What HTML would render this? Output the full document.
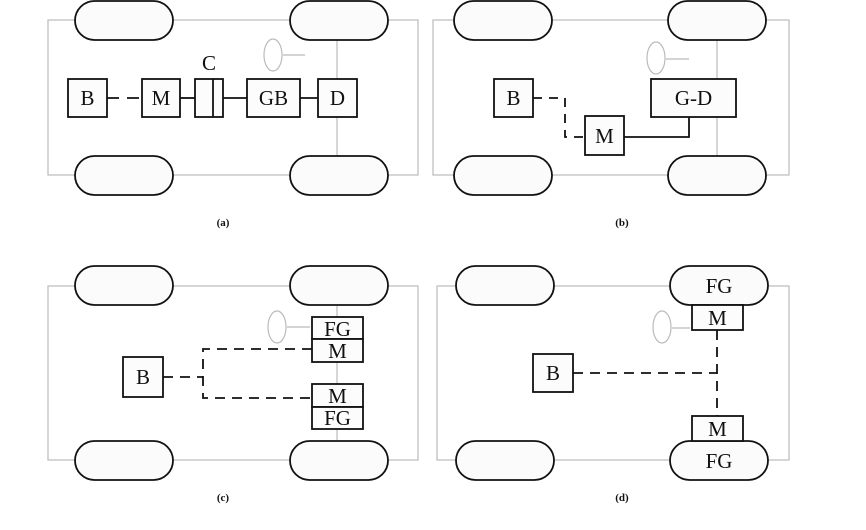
<!DOCTYPE html>
<html><head><meta charset="utf-8"><style>html,body{margin:0;padding:0;background:#fff}svg{display:block}</style></head><body>
<svg width="866" height="530" viewBox="0 0 866 530" xmlns="http://www.w3.org/2000/svg" font-family="Liberation Serif, serif">
<defs>
<g id="w"><rect x="0" y="0" width="98" height="39" rx="19.5" fill="#fbfbfb" stroke="#111" stroke-width="1.8"/></g>
</defs>
<g stroke="#bbb" stroke-width="1.2" fill="none">
<rect x="48" y="20" width="370" height="155"/>
<rect x="433" y="20" width="356" height="155"/>
<rect x="48" y="286" width="370" height="174"/>
<rect x="437" y="286" width="352" height="174"/>
<line x1="337" y1="40" x2="337" y2="156"/>
<line x1="717" y1="40" x2="717" y2="156"/>
<line x1="337" y1="306" x2="337" y2="441"/>
<ellipse cx="273" cy="55" rx="9" ry="16"/><line x1="283" y1="55" x2="305" y2="55"/>
<ellipse cx="656" cy="58" rx="9" ry="16"/><line x1="666" y1="59" x2="689" y2="59"/>
<ellipse cx="277" cy="327" rx="9" ry="16"/><line x1="287" y1="327" x2="310" y2="327"/>
<ellipse cx="662" cy="327" rx="9" ry="16"/><line x1="672" y1="328" x2="690" y2="328"/>
</g>
<use href="#w" x="75" y="1"/><use href="#w" x="290" y="1"/><use href="#w" x="75" y="156"/><use href="#w" x="290" y="156"/>
<use href="#w" x="454" y="1"/><use href="#w" x="668" y="1"/><use href="#w" x="454" y="156"/><use href="#w" x="668" y="156"/>
<use href="#w" x="75" y="266"/><use href="#w" x="290" y="266"/><use href="#w" x="75" y="441"/><use href="#w" x="290" y="441"/>
<use href="#w" x="456" y="266"/><use href="#w" x="670" y="266"/><use href="#w" x="456" y="441"/><use href="#w" x="670" y="441"/>
<g stroke="#111" stroke-width="1.8" fill="#fcfcfc">
<rect x="68" y="79" width="39" height="38"/><rect x="142" y="79" width="38" height="38"/>
<rect x="195" y="79" width="28" height="38"/><line x1="213" y1="79" x2="213" y2="117"/>
<rect x="247" y="79" width="53" height="38"/><rect x="318" y="79" width="39" height="38"/>
<rect x="494" y="79" width="39" height="38"/><rect x="585" y="116" width="39" height="39"/><rect x="651" y="79" width="85" height="38"/>
<rect x="312" y="317" width="51" height="22"/><rect x="312" y="339" width="51" height="23"/>
<rect x="312" y="384" width="51" height="23"/><rect x="312" y="407" width="51" height="22"/>
<rect x="123" y="357" width="40" height="40"/>
<rect x="692" y="305" width="51" height="25"/><rect x="692" y="416" width="51" height="25"/>
<rect x="533" y="354" width="40" height="38"/>
</g>
<g stroke="#111" stroke-width="1.8" fill="none">
<line x1="107" y1="98" x2="142" y2="98" stroke-dasharray="12,8"/>
<line x1="180" y1="98" x2="195" y2="98"/><line x1="223" y1="98" x2="247" y2="98"/><line x1="300" y1="98" x2="318" y2="98"/>
<polyline points="533,98 565,98 565,137 585,137" stroke-dasharray="9,7"/>
<polyline points="624,137 689,137 689,117"/>
<line x1="163" y1="377" x2="203" y2="377" stroke-dasharray="10,7"/>
<polyline points="312,349 203,349 203,398 312,398" stroke-dasharray="10,7"/>
<line x1="573" y1="373" x2="717" y2="373" stroke-dasharray="10,7"/>
<line x1="717" y1="330" x2="717" y2="416" stroke-dasharray="10,7"/>
</g>
<g fill="#111" font-size="21" text-anchor="middle">
<text x="87.5" y="105">B</text><text x="161" y="105">M</text><text x="209" y="70">C</text>
<text x="273.5" y="105">GB</text><text x="337.5" y="105">D</text>
<text x="513.5" y="105">B</text><text x="604.5" y="143">M</text><text x="693.5" y="105">G-D</text>
<text x="337.5" y="336">FG</text><text x="337.5" y="358">M</text><text x="337.5" y="403">M</text><text x="337.5" y="425">FG</text>
<text x="143" y="384">B</text>
<text x="719" y="293">FG</text><text x="717.5" y="325">M</text><text x="717.5" y="436">M</text><text x="719" y="468">FG</text>
<text x="553" y="380">B</text>
</g>
<g fill="#111" font-size="11" font-weight="bold" text-anchor="middle">
<text x="223" y="226">(a)</text><text x="622" y="226">(b)</text>
<text x="223" y="501">(c)</text><text x="622" y="501">(d)</text>
</g>
</svg>
</body></html>
